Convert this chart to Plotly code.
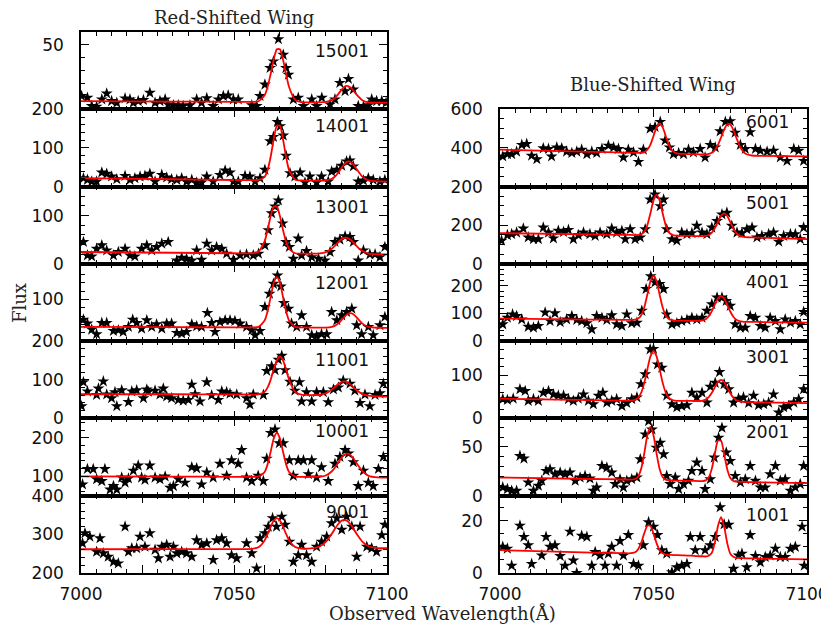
import plotly.graph_objects as go

# ---------------- data ----------------
FIT_WL_LEFT = [7000, 7030, 7050, 7056, 7058, 7060, 7061, 7062, 7063, 7064, 7065, 7066, 7067, 7068,
               7070, 7072, 7075, 7078, 7080, 7082, 7083, 7084, 7085, 7086, 7087, 7088, 7089, 7090,
               7092, 7094, 7097, 7100]
FIT_WL_RIGHT = [7000, 7030, 7040, 7042, 7044, 7045, 7046, 7047, 7048, 7049, 7050, 7051, 7052, 7053,
                7054, 7055, 7056, 7057, 7058, 7060, 7062, 7065, 7066, 7067, 7068, 7069, 7070, 7071,
                7072, 7073, 7074, 7075, 7076, 7077, 7078, 7079, 7080, 7082, 7085, 7100]

WL_15001 = [7000.2, 7002.1, 7003.5, 7005.1, 7006.8, 7008.4, 7010.0, 7011.7, 7014.4, 7016.0, 7017.1, 7018.7,
            7020.4, 7022.5, 7024.2, 7025.8, 7027.5, 7028.5, 7030.2, 7031.8, 7033.4, 7035.6, 7037.8, 7039.4,
            7041.1, 7043.2, 7044.9, 7046.5, 7048.1, 7049.8, 7051.4, 7055.8, 7057.4, 7058.5, 7060.1, 7061.8,
            7062.9, 7064.5, 7066.1, 7067.0, 7067.8, 7069.4, 7071.0, 7072.7, 7075.4, 7077.0, 7078.7, 7081.4,
            7083.0, 7084.6, 7086.3, 7087.4, 7089.0, 7090.6, 7092.3, 7093.9, 7095.0, 7096.6, 7098.3, 7099.7]
FLUX_15001 = [10.3, 9.0, 2.6, 2.1, 7.7, 12.3, 6.4, 5.1, 8.5, 7.7, 5.1, 6.4, 7.2, 12.8, 5.1, 6.4, 7.7, 3.8,
              3.1, 3.1, 2.6, 3.1, 7.7, 5.1, 8.7, 2.6, 7.7, 10.3, 10.8, 7.7, 7.7, 3.1, 2.6, 10.3, 19.2, 32.1,
              37.2, 54.4, 42.3, 32.1, 26.9, 7.7, 9.0, 2.6, 7.7, 2.6, 9.0, 3.8, 7.7, 20.5, 14.1, 23.6, 15.4,
              2.6, 2.1, 3.1, 7.7, 6.4, 6.4, 5.1]
FIT_15001 = [6.4, 6.0, 5.8, 5.7, 6.2, 10.8, 17.4, 27.6, 38.9, 46.6, 46.6, 38.8, 27.5, 17.3, 7.3, 5.5, 5.4,
             5.4, 5.7, 7.1, 8.9, 11.6, 14.7, 17.3, 18.2, 17.2, 14.6, 11.5, 6.9, 5.4, 5.1, 5.1]

WL_14001 = [7000.8, 7002.1, 7003.5, 7005.1, 7006.8, 7008.4, 7010.0, 7011.7, 7014.4, 7016.0, 7017.6, 7019.3,
            7020.9, 7022.5, 7024.2, 7026.4, 7028.0, 7029.6, 7031.3, 7032.9, 7034.5, 7036.2, 7037.8, 7039.4,
            7041.1, 7043.2, 7045.4, 7047.1, 7048.7, 7049.8, 7051.4, 7053.6, 7055.2, 7056.9, 7058.5, 7060.1,
            7061.8, 7062.9, 7064.2, 7065.1, 7066.1, 7067.0, 7068.3, 7069.9, 7071.6, 7073.2, 7074.8, 7077.0,
            7078.6, 7080.8, 7081.9, 7083.6, 7085.2, 7086.8, 7087.9, 7089.0, 7090.6, 7092.3, 7093.9, 7095.5,
            7097.7, 7099.3]
FLUX_14001 = [21.7, 17.4, 13.0, 13.0, 36.5, 33.0, 26.1, 19.1, 27.8, 17.4, 21.7, 26.1, 27.8, 33.0, 13.0,
              30.4, 23.5, 19.1, 17.4, 21.7, 13.0, 17.4, 10.4, 10.4, 26.1, 13.0, 30.4, 41.7, 36.5, 13.0,
              13.0, 27.8, 26.1, 13.0, 21.7, 43.5, 117.4, 128.7, 167, 156.5, 132.2, 80, 34.8, 26.1, 36.5,
              10.4, 26.1, 10.4, 26.1, 13.0, 39.1, 43.5, 53.9, 65.2, 67.8, 52.2, 13.0, 15.7, 21.7, 17.4,
              13.0, 17.4]
FIT_14001 = [21.7, 19, 17, 16.8, 17.1, 25.3, 43.2, 77.9, 123.3, 157.4, 157.3, 123.1, 77.6, 42.7, 17.9,
             15.7, 15.5, 15.3, 15.8, 20.3, 26.0, 35.1, 46.6, 57.6, 64.4, 64.3, 57.3, 46.1, 25.2, 15.8,
             13.3, 13]

WL_13001 = [7000.8, 7002.1, 7003.5, 7005.1, 7006.8, 7008.4, 7010.6, 7012.2, 7014.4, 7016.0, 7017.6, 7019.8,
            7021.5, 7023.1, 7024.7, 7026.4, 7028.5, 7031.3, 7032.9, 7034.5, 7036.2, 7037.8, 7039.4, 7041.1,
            7042.7, 7044.3, 7046.0, 7047.6, 7049.8, 7052.0, 7054.1, 7056.3, 7058.0, 7060.1, 7061.2, 7062.3,
            7063.4, 7064.5, 7065.9, 7067.0, 7068.1, 7069.4, 7071.0, 7072.1, 7073.7, 7075.4, 7077.6, 7079.7,
            7081.4, 7083.0, 7084.6, 7086.3, 7087.9, 7089.0, 7090.6, 7092.3, 7094.4, 7096.1, 7097.7, 7099.3]
FLUX_13001 = [45.4, 17.5, 15.4, 31.4, 38.4, 28.0, 17.5, 24.5, 31.4, 17.5, 15.4, 31.4, 38.4, 28.0, 35.0,
              41.9, 45.4, 7.0, 12.6, 10.5, 7.0, 28.0, 8.4, 41.9, 28.0, 35.0, 31.4, 21.0, 8.4, 17.5, 19.6,
              17.5, 21.0, 38.4, 69.9, 104.8, 118.8, 131.4, 83.9, 45.4, 35.0, 10.5, 52.4, 17.5, 26.6, 14.0,
              10.5, 7.0, 24.5, 45.4, 50.3, 57.3, 55.9, 45.4, 7.0, 28.0, 19.6, 19.6, 14.0, 35.0]
FIT_13001 = [24.5, 23, 22, 21.9, 25.1, 46.6, 70.8, 99.1, 118.8, 118.7, 99.0, 70.6, 46.3, 31.4, 22.0, 21.3,
             21.0, 21.5, 24.1, 31.8, 37.9, 44.7, 50.5, 54.0, 53.9, 50.3, 44.3, 37.4, 26.4, 21.4, 20.0, 19.6]

WL_12001 = [7000.8, 7002.1, 7003.5, 7005.1, 7006.8, 7008.4, 7010.6, 7012.2, 7013.8, 7015.5, 7016.9, 7018.2,
            7019.8, 7021.5, 7023.1, 7024.7, 7026.4, 7028.0, 7029.6, 7031.3, 7032.9, 7034.5, 7036.2, 7037.8,
            7039.4, 7041.3, 7042.7, 7043.8, 7045.4, 7047.1, 7048.7, 7050.3, 7052.0, 7054.1, 7055.8, 7056.9,
            7058.5, 7060.1, 7061.6, 7062.9, 7064.2, 7065.3, 7066.3, 7067.8, 7068.8, 7070.5, 7072.1, 7073.7,
            7075.4, 7077.0, 7078.6, 7080.3, 7081.9, 7083.6, 7085.2, 7086.8, 7088.5, 7090.1, 7091.7, 7093.9,
            7095.5, 7097.7, 7099.3]
FLUX_12001 = [51.6, 42.1, 27.8, 16.7, 43.7, 43.7, 24.6, 26.2, 22.2, 34.1, 51.6, 43.7, 30.2, 50.0, 34.1,
              40.5, 30.2, 42.1, 42.1, 19.8, 18.3, 22.2, 40.5, 35.7, 34.1, 67.5, 43.7, 22.2, 46.0, 50.0,
              50.0, 48.4, 42.1, 34.1, 26.2, 14.3, 24.6, 81.7, 113.5, 137.3, 157.1, 131.0, 91.3, 77.8, 42.1,
              34.1, 61.9, 34.1, 14.3, 11.9, 16.7, 16.7, 69.8, 50.0, 61.9, 69.8, 77.8, 38.1, 16.7, 34.1,
              14.3, 38.1, 57.9]
FIT_12001 = [34, 33.5, 33, 33, 34.3, 49.3, 72.3, 106.4, 139.7, 154, 139.7, 106.4, 72.3, 49.2, 34.2, 32.8,
             32.6, 32.5, 32.6, 34.4, 37.1, 42.1, 49.3, 57.6, 64.5, 67.2, 64.4, 57.5, 41.9, 34.1, 32.1, 32]

WL_11001 = [7000.2, 7000.8, 7002.1, 7005.1, 7005.7, 7007.3, 7008.4, 7010.0, 7011.1, 7011.7, 7013.3, 7015.5,
            7016.6, 7018.2, 7020.4, 7021.5, 7022.0, 7024.2, 7025.8, 7026.9, 7028.0, 7029.6, 7031.8, 7033.4,
            7035.1, 7036.2, 7037.3, 7038.9, 7041.1, 7042.7, 7044.9, 7046.0, 7047.6, 7048.7, 7050.9, 7054.1,
            7055.2, 7056.3, 7059.6, 7060.7, 7062.3, 7063.4, 7064.5, 7065.6, 7066.7, 7068.3, 7069.9, 7071.4,
            7072.1, 7073.7, 7075.4, 7077.0, 7079.2, 7080.8, 7082.5, 7084.1, 7085.7, 7087.9, 7089.5, 7091.2,
            7092.8, 7094.4, 7096.1, 7097.7, 7098.8]
FLUX_11001 = [31.6, 94, 70, 61, 77.5, 96, 62, 52.5, 68, 31.6, 73, 42.5, 70, 73, 52.5, 75, 69, 72, 62, 77.5,
              56.7, 52.5, 48, 46, 48, 87.5, 63, 44, 94, 60, 48, 70, 68, 64, 62, 52.5, 36, 62, 61, 123, 135,
              125, 152, 162, 125, 95, 72, 94, 44, 68, 44, 68, 68, 42, 75, 80, 98, 90, 72, 40, 62, 31.6, 61,
              65, 90]
FIT_11001 = [62.5, 62.5, 62, 61.8, 62.3, 69.0, 80.5, 100.5, 127, 150.7, 160.2, 150.5, 126.7, 100.2, 68.5,
             61.4, 60.5, 61.3, 64.9, 74.6, 81.6, 88.5, 93.6, 95.7, 93.7, 88.2, 81.0, 73.5, 63.0, 58.8, 57.2,
             56.7]

WL_10001 = [7000.5, 7002.1, 7004.0, 7005.1, 7006.8, 7007.8, 7009.5, 7010.6, 7011.7, 7013.3, 7014.4, 7015.5,
            7017.1, 7018.7, 7019.8, 7020.9, 7022.5, 7024.2, 7025.8, 7027.5, 7029.1, 7030.2, 7031.8, 7034.0,
            7036.2, 7037.8, 7039.4, 7041.1, 7043.2, 7045.4, 7047.6, 7049.2, 7051.4, 7052.5, 7054.1, 7055.8,
            7057.9, 7059.6, 7060.7, 7062.0, 7063.4, 7064.8, 7066.1, 7068.1, 7069.4, 7071.0, 7072.7, 7074.3,
            7075.4, 7077.0, 7078.6, 7080.8, 7083.0, 7084.6, 7086.3, 7087.4, 7089.0, 7090.6, 7092.3, 7093.9,
            7095.5, 7097.2, 7098.8]
FLUX_10001 = [79.3, 119.3, 119, 92.7, 88, 119, 66, 75, 66, 97, 84, 94.5, 115, 128, 97, 91, 128, 97, 92.7,
              99.8, 70.5, 75, 92.7, 84, 123.8, 121, 79.3, 110.5, 97, 132.7, 101.6, 141.6, 132.7, 168.2, 97,
              88, 101.6, 88, 146, 212.7, 221.6, 186, 186, 141.6, 101.6, 141.6, 141.6, 106, 141.6, 97, 123.8,
              88, 132.7, 150.5, 168.2, 159.4, 137, 75, 115, 84, 75, 119.3, 150.5]
FIT_10001 = [100, 99.5, 99, 99, 99.8, 111.4, 131.8, 164.6, 198.3, 213, 198.3, 164.6, 131.8, 111.4, 99.6,
             98.7, 98.5, 99.0, 102.3, 113.4, 123.2, 135.1, 147.0, 155.8, 159, 155.7, 146.8, 134.9, 112.8,
             101.5, 97.5, 97]

WL_9001 = [7000.5, 7001.3, 7002.9, 7005.1, 7006.2, 7007.3, 7008.9, 7010.6, 7012.2, 7014.4, 7015.5, 7016.6,
           7018.2, 7019.3, 7020.9, 7022.5, 7024.2, 7025.3, 7026.4, 7028.0, 7029.1, 7030.2, 7031.3, 7032.9,
           7034.5, 7036.2, 7037.8, 7039.4, 7041.1, 7043.2, 7044.3, 7046.0, 7047.6, 7049.2, 7050.9, 7054.1,
           7055.8, 7057.4, 7058.5, 7060.1, 7061.2, 7062.6, 7063.9, 7065.6, 7066.7, 7068.1, 7069.4, 7071.0,
           7072.1, 7073.7, 7075.4, 7077.0, 7078.6, 7080.3, 7081.9, 7083.6, 7085.2, 7086.8, 7088.5, 7090.1,
           7091.2, 7093.4, 7095.0, 7096.6, 7098.3, 7099.3]
FLUX_9001 = [277, 303, 294, 255, 290, 251, 242, 229, 225, 320, 255, 264, 264, 294, 268, 303, 260, 238, 268,
             273, 242, 268, 251, 255, 251, 242, 285, 273, 277, 234, 285, 290, 277, 246, 238, 277, 251, 212,
             290, 303, 320, 342, 320, 346, 325, 281, 229, 246, 273, 246, 229, 268, 281, 294, 329, 342, 312,
             346, 320, 242, 320, 268, 264, 255, 298, 325]
FIT_9001 = [261.5, 261.8, 262, 262.7, 266.7, 284.4, 301.0, 320.0, 335.8, 342.0, 335.9, 320.2, 301.3, 284.8,
            267.3, 263.4, 263.5, 268.6, 280.3, 302.0, 314.7, 326.2, 334.5, 337.5, 334.6, 326.4, 315.0, 302.3,
            280.8, 269.3, 264.5, 264]

WL_6001 = [7000.9, 7002.4, 7003.8, 7005.4, 7007.1, 7008.7, 7010.3, 7012.0, 7014.1, 7015.8, 7016.8, 7018.5,
           7020.1, 7021.7, 7023.4, 7025.0, 7026.6, 7028.3, 7029.9, 7031.5, 7033.2, 7035.3, 7037.0, 7038.6,
           7040.2, 7041.8, 7043.5, 7045.1, 7046.7, 7048.9, 7050.5, 7052.2, 7053.8, 7055.2, 7056.5, 7058.2,
           7059.8, 7061.4, 7063.0, 7065.2, 7066.8, 7068.5, 7070.1, 7071.7, 7073.4, 7075.0, 7076.6, 7078.3,
           7079.9, 7081.5, 7083.2, 7084.8, 7087.0, 7089.1, 7091.3, 7093.5, 7095.7, 7097.3, 7098.9]
FLUX_6001 = [356, 368, 368, 381, 416, 421, 360, 342, 398, 395, 356, 403, 398, 381, 374, 381, 391, 368, 381,
             374, 395, 412, 403, 395, 351, 391, 377, 328, 391, 500, 509, 535, 439, 403, 368, 374, 368, 391,
             377, 395, 351, 416, 403, 486, 535, 539, 479, 416, 395, 482, 395, 386, 381, 386, 351, 333, 395,
             386, 333]
FIT_6001 = [391, 380, 376, 375.5, 375, 374.7, 375.1, 378.6, 390.6, 417.7, 461.6, 506.8, 526.5, 506.3, 460.6,
            415.9, 387.8, 374.8, 370.6, 368.8, 368, 367, 366.6, 367, 368.7, 374.7, 389, 415.5, 454.1, 495.1,
            521.6, 521.3, 493.7, 451.9, 412.4, 385, 369.7, 360.8, 359, 356]

WL_5001 = [7000.5, 7002.4, 7003.8, 7005.4, 7007.6, 7009.2, 7010.9, 7012.5, 7014.1, 7015.8, 7017.4, 7019.0,
           7020.7, 7022.3, 7023.9, 7025.5, 7027.2, 7029.3, 7031.0, 7032.6, 7034.8, 7036.4, 7038.0, 7039.7,
           7040.8, 7042.4, 7044.0, 7045.7, 7047.3, 7048.9, 7050.5, 7052.2, 7053.3, 7054.3, 7056.0, 7057.6,
           7059.2, 7060.9, 7062.5, 7064.1, 7065.8, 7067.4, 7069.0, 7070.7, 7072.3, 7073.9, 7075.5, 7077.2,
           7078.8, 7080.4, 7082.1, 7083.7, 7085.3, 7087.5, 7089.1, 7090.8, 7092.4, 7094.6, 7096.2, 7097.8,
           7098.9]
FLUX_5001 = [120, 149, 154, 162, 183, 137, 128, 128, 188, 162, 132, 171, 166, 176, 128, 149, 162, 154, 145,
             162, 154, 183, 162, 171, 128, 179, 128, 137, 179, 333, 359, 299, 333, 179, 128, 120, 162, 154,
             159, 197, 162, 154, 188, 222, 256, 265, 197, 162, 159, 179, 188, 137, 145, 154, 162, 115, 145,
             154, 154, 128, 188]
FIT_5001 = [159, 152.3, 150.1, 149.7, 149.2, 149.8, 153.1, 166.4, 200.7, 261.7, 328.5, 358.4, 327.9, 260.6,
            199.1, 164.2, 150.5, 146.6, 145.5, 145, 144.3, 143.3, 143.5, 144.6, 149.3, 161.5, 184.9, 217.7,
            248.5, 261, 247.8, 216.3, 182.9, 158.8, 145.9, 140.4, 138.5, 137, 135.5, 128]

WL_4001 = [7000.9, 7002.4, 7004.1, 7005.4, 7007.1, 7009.2, 7010.9, 7012.5, 7014.7, 7016.3, 7017.9, 7019.6,
           7021.7, 7023.4, 7025.0, 7026.6, 7028.3, 7029.9, 7031.5, 7033.2, 7034.8, 7036.4, 7038.0, 7039.7,
           7041.3, 7042.9, 7044.6, 7046.2, 7047.6, 7049.1, 7050.5, 7052.0, 7053.3, 7054.3, 7056.0, 7057.6,
           7059.2, 7060.9, 7062.5, 7064.1, 7065.8, 7067.4, 7069.0, 7070.7, 7072.3, 7073.7, 7075.0, 7076.6,
           7078.3, 7079.9, 7081.5, 7083.2, 7084.8, 7086.4, 7088.0, 7089.7, 7091.3, 7092.9, 7094.6, 7096.2,
           7097.8, 7098.9]
FLUX_4001 = [61, 85, 97, 91, 79, 52, 49, 55, 104, 73, 101, 69, 79, 91, 77, 73, 65, 43, 91, 85, 77, 94, 61,
             55, 97, 65, 67, 110, 189, 235, 213, 207, 189, 97, 61, 65, 73, 77, 85, 79, 85, 110, 134, 158,
             158, 146, 128, 61, 49, 49, 91, 85, 55, 49, 85, 73, 43, 79, 67, 73, 61, 106]
FIT_4001 = [81.6, 78.3, 77.2, 77.0, 77.9, 81.7, 94.1, 122.8, 169, 216.7, 237.3, 216.3, 168.3, 121.7, 92.7,
            79.9, 75.8, 74.5, 74.4, 74, 73.6, 73.6, 75, 79.6, 90.1, 108.5, 132.9, 154.8, 163.6, 154.4,
            132.1, 107.3, 88.5, 77.6, 72.6, 70.8, 70, 69.7, 69.3, 67]

WL_3001 = [7000.9, 7002.4, 7004.3, 7006.5, 7008.2, 7009.2, 7010.9, 7012.5, 7014.1, 7015.8, 7017.4, 7019.0,
           7020.7, 7022.3, 7023.9, 7025.5, 7027.2, 7028.8, 7030.4, 7032.1, 7033.5, 7034.8, 7036.4, 7038.0,
           7039.7, 7041.3, 7042.9, 7044.6, 7045.9, 7047.3, 7048.9, 7050.0, 7051.3, 7052.7, 7054.3, 7056.0,
           7057.6, 7059.2, 7060.9, 7062.5, 7064.1, 7065.8, 7067.4, 7068.5, 7070.1, 7071.5, 7073.0, 7074.5,
           7076.1, 7077.7, 7079.3, 7081.0, 7082.6, 7084.2, 7085.9, 7087.5, 7089.1, 7090.8, 7092.4, 7094.0,
           7095.7, 7097.3, 7098.9]
FLUX_3001 = [45, 43, 46, 68, 64, 41, 45, 41, 60, 64, 56, 53, 53, 45, 41, 46, 56, 41, 33, 53, 60, 37, 41,
             45, 29, 36, 45, 49, 80, 103, 161, 162, 126, 118, 53, 33, 26, 29, 31, 60, 49, 60, 37, 74, 83,
             108, 80, 68, 37, 46, 49, 36, 53, 31, 33, 37, 56, 14, 26, 29, 37, 45, 68]
FIT_3001 = [46, 42.7, 41.6, 41.4, 43.1, 47.8, 59.9, 82.8, 114.7, 144.6, 157, 144.6, 114.7, 82.8, 59.9,
            47.8, 43, 41.5, 41, 41, 40.7, 40.6, 41.3, 43.8, 49.5, 59.6, 72.9, 85, 89.7, 84.7, 72.3, 58.7,
            48.3, 42.3, 39.5, 38.5, 38, 37.8, 37.4, 35.5]

WL_2001 = [7000.9, 7002.4, 7003.8, 7005.4, 7006.5, 7007.8, 7009.2, 7010.9, 7012.5, 7013.6, 7015.0, 7016.3,
           7017.9, 7019.6, 7021.2, 7022.8, 7024.5, 7026.1, 7027.7, 7029.3, 7030.4, 7031.5, 7033.2, 7034.8,
           7036.4, 7037.5, 7039.1, 7040.2, 7041.3, 7042.9, 7044.6, 7045.7, 7047.3, 7048.4, 7049.5, 7050.9,
           7052.2, 7053.3, 7054.3, 7055.4, 7057.1, 7058.2, 7059.8, 7061.4, 7062.5, 7064.1, 7065.8, 7066.8,
           7068.5, 7069.8, 7071.2, 7072.3, 7073.7, 7075.0, 7076.6, 7078.3, 7079.9, 7081.5, 7083.2, 7084.8,
           7086.4, 7088.0, 7089.7, 7091.3, 7092.9, 7094.6, 7096.2, 7097.8, 7098.9]
FLUX_2001 = [8.5, 6.8, 5.1, 5.1, 40.7, 38.0, 13.6, 5.1, 10.2, 15.3, 25.4, 27.1, 22.0, 23.7, 22.0, 23.7,
             15.3, 18.6, 20.3, 17.6, 5.1, 8.5, 30.5, 28.8, 23.7, 11.9, 16.9, 8.5, 15.3, 16.9, 18.6, 37.3,
             62.7, 76.3, 67.8, 49.2, 54.2, 42.4, 20.3, 11.9, 18.6, 6.8, 11.9, 15.3, 25.4, 33.9, 25.4, 6.8,
             16.9, 39.0, 59.3, 69.5, 44.1, 35.6, 20.3, 13.6, 16.9, 30.5, 15.3, 8.5, 8.5, 22.0, 30.5, 15.3,
             16.9, 5.1, 8.5, 11.9, 30.5]
FIT_2001 = [18.6, 17.1, 16.6, 16.5, 17.1, 19.7, 27.7, 43.4, 61.8, 70.4, 61.7, 43.1, 27.4, 19.2, 16.4, 15.7,
            15.6, 15.5, 15.4, 15.3, 15.2, 15, 15, 15.7, 18.8, 27.7, 43, 56.4, 56.3, 42.8, 27.4, 18.3, 15.1,
            14.3, 14.1, 14.1, 14, 13.9, 13.7, 12.9]

WL_1001 = [7000.9, 7002.4, 7003.8, 7006.5, 7007.8, 7009.2, 7010.3, 7013.6, 7015.0, 7016.3, 7017.9, 7019.6,
           7021.2, 7022.8, 7023.9, 7025.0, 7026.6, 7028.3, 7029.9, 7031.0, 7032.6, 7034.2, 7035.3, 7036.4,
           7038.0, 7039.1, 7040.2, 7041.8, 7043.5, 7045.1, 7046.7, 7048.4, 7050.0, 7051.3, 7052.7, 7054.3,
           7056.0, 7057.6, 7059.2, 7060.9, 7062.0, 7063.6, 7065.2, 7066.8, 7068.5, 7070.1, 7071.7, 7073.0,
           7074.5, 7076.1, 7077.7, 7078.8, 7080.4, 7081.5, 7083.2, 7084.8, 7086.4, 7088.0, 7089.7, 7091.3,
           7092.9, 7094.6, 7096.2, 7098.4, 7099.1]
FLUX_1001 = [10.0, 9.3, 2.8, 18.1, 13.8, 10.6, 3.5, 6.7, 13.8, 10.0, 10.6, 6.5, 2.8, 15.8, 4.8, 0, 14.2,
             13.8, 2.8, 8.0, 6.7, 2.8, 7.4, 10.0, 2.8, 12.2, 6.7, 14.5, 3.5, 2.8, 10.6, 19.4, 17.7, 14.5,
             8.7, 7.4, 0.3, 2.2, 2.8, 3.5, 13.8, 8.7, 13.8, 8.7, 10.6, 13.8, 25.1, 18.6, 18.4, 1.6, 6.7,
             7.4, 2.2, 14.5, 6.5, 4.1, 6.1, 6.7, 9.3, 6.1, 6.1, 9.3, 10.0, 17.7, 2.8]
FIT_1001 = [8.7, 7.8, 7.6, 7.5, 7.9, 9.1, 11.6, 15.2, 18.0, 18.0, 15.0, 11.4, 8.7, 7.5, 7.0, 6.9, 6.9,
            6.8, 6.8, 6.7, 6.6, 6.4, 6.4, 6.3, 6.6, 7.7, 11.7, 17.9, 21.3, 17.8, 11.5, 7.4, 6.2, 5.8, 5.8,
            5.7, 5.6, 5.6, 5.5, 5.2]

PANELS_LEFT = ["15001", "14001", "13001", "12001", "11001", "10001", "9001"]
PANELS_RIGHT = ["6001", "5001", "4001", "3001", "2001", "1001"]

SERIES = {
    "15001": (WL_15001, FLUX_15001, FIT_15001), "14001": (WL_14001, FLUX_14001, FIT_14001),
    "13001": (WL_13001, FLUX_13001, FIT_13001), "12001": (WL_12001, FLUX_12001, FIT_12001),
    "11001": (WL_11001, FLUX_11001, FIT_11001), "10001": (WL_10001, FLUX_10001, FIT_10001),
    "9001": (WL_9001, FLUX_9001, FIT_9001), "6001": (WL_6001, FLUX_6001, FIT_6001),
    "5001": (WL_5001, FLUX_5001, FIT_5001), "4001": (WL_4001, FLUX_4001, FIT_4001),
    "3001": (WL_3001, FLUX_3001, FIT_3001), "2001": (WL_2001, FLUX_2001, FIT_2001),
    "1001": (WL_1001, FLUX_1001, FIT_1001),
}

# y axis ranges, tick values, tick labels, minor tick step
Y_AXES = {
    "15001": ([0, 60], [0, 50], ["", "50"], 10),
    "14001": ([0, 200], [0, 100, 200], ["0", "100", "200"], 20),
    "13001": ([0, 160], [0, 100], ["0", "100"], 20),
    "12001": ([0, 185], [0, 100], ["", "100"], 20),
    "11001": ([0, 200], [0, 100, 200], ["0", "100", "200"], 20),
    "10001": ([50, 250], [100, 200], ["100", "200"], 20),
    "9001": ([200, 400], [200, 300, 400], ["200", "300", "400"], 20),
    "6001": ([200, 600], [200, 400, 600], ["200", "400", "600"], 50),
    "5001": ([0, 400], [0, 200, 400], ["0", "200", ""], 50),
    "4001": ([0, 280], [0, 100, 200], ["0", "100", "200"], 20),
    "3001": ([0, 180], [0, 100], ["0", "100"], 20),
    "2001": ([0, 79], [0, 50], ["0", "50"], 10),
    "1001": ([0, 29.5], [0, 20], ["0", "20"], 5),
}
X_TICKVALS = [7000, 7020, 7040, 7050, 7060, 7080, 7100]
X_TICKTEXT = ["7000", "", "", "7050", "", "", "7100"]

# ---------------- layout geometry (page pixels; page body has an 8px margin) ----------------
PAGE_OFF = 8
W, H = 829 - PAGE_OFF, 630 - PAGE_OFF


def px(x):
    return (x - PAGE_OFF) / W


def py(y):
    return 1 - (y - PAGE_OFF) / H


COLS = {"L": (81, 387), "R": (500, 807)}
TOP, BOTTOM, NROW = 32, 573, 7
ROW_H = (BOTTOM - TOP) / NROW
LABEL_DY = {"15001": 19, "14001": 17, "13001": 20, "12001": 19, "11001": 19, "10001": 13, "9001": 16,
            "6001": 13, "5001": 16, "4001": 18, "3001": 16, "2001": 14, "1001": 19}

TICKFONT = dict(family="DejaVu Sans", size=17, color="#111")
fig = go.Figure()
layout = dict(width=W, height=H, margin=dict(l=0, r=0, t=0, b=0, autoexpand=False), showlegend=False,
              plot_bgcolor="white", paper_bgcolor="white", annotations=[])

panels = [("L", r, n) for r, n in enumerate(PANELS_LEFT)] + \
         [("R", r + 1, n) for r, n in enumerate(PANELS_RIGHT)]

for k, (col, row, name) in enumerate(panels, start=1):
    x0, x1 = COLS[col]
    top = TOP + row * ROW_H
    bot = top + ROW_H
    xd = [px(x0), px(x1)]
    yd = [py(bot), py(top)]
    wl, flux, fit = SERIES[name]
    fit_wl = FIT_WL_LEFT if col == "L" else FIT_WL_RIGHT
    xa = "x" if k == 1 else f"x{k}"
    ya = "y" if k == 1 else f"y{k}"
    fig.add_trace(go.Scatter(x=wl, y=flux, mode="markers", xaxis=xa, yaxis=ya,
                             marker=dict(symbol="star", size=9, color="black", line=dict(width=0))))
    fig.add_trace(go.Scatter(x=fit_wl, y=fit, mode="lines", xaxis=xa, yaxis=ya,
                             line=dict(color="#ff0000", width=1.8, shape="spline", smoothing=0.6)))
    is_bottom = (row == NROW - 1)
    yr, yt, ytt, ymin = Y_AXES[name]
    layout["xaxis" if k == 1 else f"xaxis{k}"] = dict(
        domain=xd, anchor=ya, range=[7000, 7100], tickmode="array", tickvals=X_TICKVALS,
        ticktext=X_TICKTEXT, showticklabels=is_bottom, ticks="inside", ticklen=8, tickwidth=1,
        tickcolor="black", showline=True, linecolor="black", linewidth=1.5, mirror="ticks",
        showgrid=False, zeroline=False, tickfont=TICKFONT, automargin=False, ticklabelstandoff=5,
        minor=dict(tickmode="linear", tick0=7000, dtick=5, ticklen=4, ticks="inside",
                   tickcolor="black", tickwidth=1, showgrid=False))
    layout["yaxis" if k == 1 else f"yaxis{k}"] = dict(
        domain=yd, anchor=xa, range=yr, tickmode="array", tickvals=yt, ticktext=ytt,
        ticks="inside", ticklen=8, tickwidth=1, tickcolor="black", showline=True,
        linecolor="black", linewidth=1.5, mirror="ticks", showgrid=False, zeroline=False,
        tickfont=TICKFONT, ticklabelstandoff=12, automargin=False,
        minor=dict(tickmode="linear", tick0=0, dtick=ymin, ticklen=4, ticks="inside",
                   tickcolor="black", tickwidth=1, showgrid=False))
    layout["annotations"].append(dict(
        text=name, xref="paper", yref="paper", x=px(x1 - 16), y=py(top + LABEL_DY[name]),
        xanchor="right", yanchor="middle", showarrow=False,
        font=dict(family="DejaVu Sans", size=17, color="#111")))

TITLEFONT = dict(family="DejaVu Serif", size=18, color="#222")
layout["annotations"] += [
    dict(text="Red-Shifted Wing", xref="paper", yref="paper", x=px(234), y=py(18),
         xanchor="center", yanchor="middle", showarrow=False, font=TITLEFONT),
    dict(text="Blue-Shifted Wing", xref="paper", yref="paper", x=px(653), y=py(85),
         xanchor="center", yanchor="middle", showarrow=False, font=TITLEFONT),
    dict(text="Observed Wavelength(Å)", xref="paper", yref="paper", x=px(443), y=py(613),
         xanchor="center", yanchor="middle", showarrow=False, font=TITLEFONT),
    dict(text="Flux", xref="paper", yref="paper", x=px(19), y=py(303), textangle=-90,
         xanchor="center", yanchor="middle", showarrow=False, font=TITLEFONT),
]

fig.update_layout(**layout)
fig.write_html("out.html")
